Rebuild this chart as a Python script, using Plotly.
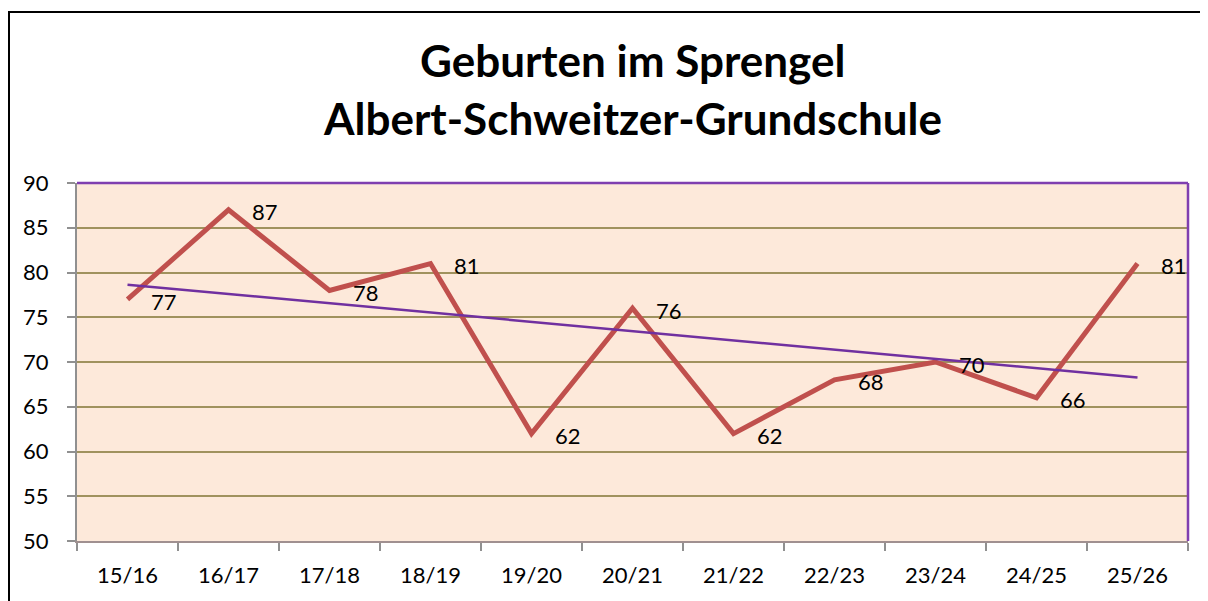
import numpy as np
import plotly.graph_objects as go

categories = ["15/16", "16/17", "17/18", "18/19", "19/20", "20/21",
              "21/22", "22/23", "23/24", "24/25", "25/26"]
births = [77, 87, 78, 81, 62, 76, 62, 68, 70, 66, 81]
y_ticks = [50, 55, 60, 65, 70, 75, 80, 85, 90]
title_lines = ["Geburten im Sprengel", "Albert-Schweitzer-Grundschule"]

# linear trendline (least squares) of the series
idx = np.arange(len(births))
slope, intercept = np.polyfit(idx, births, 1)
trend = slope * idx + intercept

# the page body has an 8px margin, so work in coordinates shifted by 8px
OFF = 8
W, H = 1208 - OFF, 601 - OFF
L, R, T, B = 77 - OFF, 1188 - OFF, 183 - OFF, 541 - OFF
FONT = "Lato"

fig = go.Figure()
fig.add_trace(go.Scatter(x=categories, y=births, mode="lines",
                         line=dict(color="#C0504D", width=5),
                         hoverinfo="x+y", showlegend=False))
fig.add_trace(go.Scatter(x=categories, y=trend, mode="lines",
                         line=dict(color="#7030A0", width=2.5),
                         hoverinfo="skip", showlegend=False))

for c, v in zip(categories, births):
    fig.add_annotation(x=c, y=v, text=str(v), showarrow=False,
                       xanchor="left", yanchor="middle", xshift=21, yshift=-2,
                       font=dict(family=FONT, size=22, color="black"))

def py(p):  # reference pixel y -> paper
    return (B - (p - OFF)) / (B - T)

def px(p):  # reference pixel x -> paper
    return ((p - OFF) - L) / (R - L)

fig.add_annotation(x=px(632), y=py(60), xref="paper", yref="paper",
                   text="<b>%s</b>" % title_lines[0], showarrow=False,
                   xanchor="center", yanchor="middle",
                   font=dict(family=FONT, size=44, color="black"))
fig.add_annotation(x=px(632), y=py(118), xref="paper", yref="paper",
                   text="<b>%s</b>" % title_lines[1], showarrow=False,
                   xanchor="center", yanchor="middle",
                   font=dict(family=FONT, size=44, color="black"))

# outer chart border (top and left visible)
fig.add_shape(type="line", xref="paper", yref="paper",
              x0=px(8), x1=px(1215), y0=py(12), y1=py(12),
              line=dict(color="black", width=2))
fig.add_shape(type="line", xref="paper", yref="paper",
              x0=px(9), x1=px(9), y0=py(12), y1=py(610),
              line=dict(color="black", width=2))
# plot area border top/right purple
fig.add_shape(type="line", xref="paper", yref="paper", x0=0, x1=1, y0=1, y1=1,
              line=dict(color="#7F3FB0", width=2.5), layer="above")
fig.add_shape(type="line", xref="paper", yref="paper", x0=1, x1=1, y0=0, y1=1,
              line=dict(color="#7F3FB0", width=2.5), layer="above")

fig.update_layout(
    width=W, height=H,
    margin=dict(l=L, r=W - R, t=T, b=H - B, pad=0),
    paper_bgcolor="white", plot_bgcolor="#FDE9DA",
    font=dict(family=FONT, size=22, color="black"),
    xaxis=dict(type="category", categoryorder="array", categoryarray=categories,
               range=[-0.5, len(categories) - 0.5],
               showline=True, linecolor="#A09090", linewidth=2,
               ticks="outside", tickson="boundaries", ticklen=8, tickwidth=1.5,
               tickcolor="#909090", showgrid=False, zeroline=False,
               ticklabelstandoff=14, tickfont=dict(family=FONT, size=22, color="black")),
    yaxis=dict(range=[50, 90], tickvals=y_ticks, ticktext=[str(t) for t in y_ticks],
               showline=True, linecolor="#909090", linewidth=2,
               ticks="outside", ticklen=8, tickwidth=1.5, tickcolor="#909090",
               showgrid=True, gridcolor="#A0925E", gridwidth=1.5, zeroline=False,
               ticklabelstandoff=14, tickfont=dict(family=FONT, size=22, color="black")),
)

fig.write_html("out.html")
